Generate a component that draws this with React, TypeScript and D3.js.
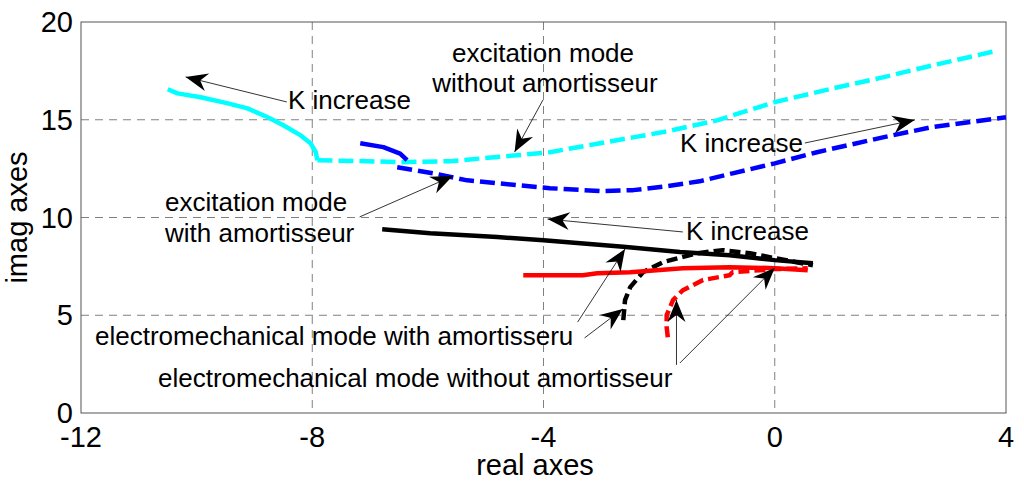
import React from "react";
import * as d3 from "d3";

const xTicks = [-12, -8, -4, 0, 4];
const yTicks = [0, 5, 10, 15, 20];

// excitation mode without amortisseur (cyan): solid part then dashed part
const cyanSolid: [number, number][] = [
  [-10.5, 16.56], [-10.33, 16.35], [-9.93, 16.15], [-9.46, 15.84], [-9.12, 15.58],
  [-8.77, 15.13], [-8.5, 14.72], [-8.2, 14.2], [-8.03, 13.8], [-7.94, 13.34], [-7.91, 12.93],
];
const cyanDashed: [number, number][] = [
  [-7.91, 12.93], [-7.05, 12.88], [-6.48, 12.83], [-5.61, 12.88], [-5.04, 13.03],
  [-4.46, 13.18], [-3.89, 13.34], [-3.02, 13.8], [-2.45, 14.1], [-1.87, 14.4],
  [-1.0, 14.97], [0, 15.9], [1.0, 16.6], [1.87, 17.17], [2.73, 17.78], [3.8, 18.5],
];
// excitation mode with amortisseur (blue)
const blueSolid: [number, number][] = [
  [-7.17, 13.8], [-6.77, 13.6], [-6.48, 13.27], [-6.36, 12.93],
];
const blueDashed: [number, number][] = [
  [-6.53, 12.57], [-5.9, 12.26], [-5.32, 11.9], [-4.75, 11.74], [-3.89, 11.5],
  [-3.02, 11.35], [-2.45, 11.4], [-1.87, 11.6], [-1.3, 11.85], [-0.73, 12.26],
  [0, 12.77], [0.73, 13.34], [1.87, 14.1], [2.73, 14.63], [4.0, 15.13],
];
// electromechanical mode with amortisseur (black)
const blackSolid: [number, number][] = [
  [-6.79, 9.4], [-5.96, 9.2], [-4.8, 9.0], [-4.0, 8.84], [-2.62, 8.5],
  [-1.64, 8.23], [-0.78, 8.07], [0, 7.82], [0.66, 7.66],
];
const blackDashed: [number, number][] = [
  [-2.62, 4.75], [-2.59, 5.77], [-2.5, 6.44], [-2.28, 7.2], [-1.93, 7.72],
  [-1.35, 8.17], [-0.9, 8.33], [-0.43, 8.17], [0, 7.92], [0.66, 7.56],
];
// electromechanical mode without amortisseur (red)
const redSolid: [number, number][] = [
  [-4.35, 7.05], [-3.32, 7.05], [-3.07, 7.15], [-2.5, 7.2], [-1.59, 7.4],
  [-0.78, 7.46], [0, 7.41], [0.57, 7.3],
];
const redDashed: [number, number][] = [
  [-1.85, 3.88], [-1.87, 4.4], [-1.87, 5.0], [-1.76, 5.77], [-1.59, 6.28],
  [-1.24, 6.8], [-0.78, 7.05], [-0.73, 7.2], [0, 7.36], [0.57, 7.4],
];

// annotation arrows: [startX, startY, tipX, tipY] in data units
const arrows: [number, number, number, number][] = [
  [-8.44, 15.91, -10.19, 17.19],
  [-4.01, 16.01, -4.5, 13.35],
  [0.52, 13.81, 2.42, 14.99],
  [-7.18, 10.03, -5.57, 12.12],
  [-1.59, 9.26, -3.93, 9.92],
  [-3.41, 4.65, -2.59, 8.39],
  [-3.29, 3.84, -2.63, 5.32],
  [-1.7, 2.46, -1.7, 5.78],
  [-1.64, 2.56, 0, 7.42],
];

// annotation texts: [text, x px, baseline px, anchor]
const notes: [string, number, number, string][] = [
  ["K increase", 288, 109, "start"],
  ["excitation mode", 543, 62, "middle"],
  ["without amortisseur", 545, 92, "middle"],
  ["K increase", 680, 152, "start"],
  ["excitation mode", 165, 211, "start"],
  ["with amortisseur", 165, 242, "start"],
  ["K increase", 686, 240, "start"],
  ["electromechanical mode with amortisseru", 95, 345, "start"],
  ["electromechanical mode without amortisseur", 158, 387, "start"],
];

const W = 1024;
const H = 482;
const L = 81, R = 1006, T = 22, B = 413;
const FONT = "Arial, 'Liberation Sans', Helvetica, sans-serif";

export default function App() {
  const x = d3.scaleLinear().domain([-12, 4]).range([L, R]);
  const y = d3.scaleLinear().domain([0, 20]).range([B, T]);
  const line = d3.line<[number, number]>().x((d) => x(d[0])).y((d) => y(d[1]));

  const series: { d: [number, number][]; c: string; dash?: string }[] = [
    { d: cyanSolid, c: "#00FFFF" },
    { d: cyanDashed, c: "#00FFFF", dash: "15,6" },
    { d: blueSolid, c: "#0000FF" },
    { d: blueDashed, c: "#0000FF", dash: "15,6" },
    { d: blackSolid, c: "#000000" },
    { d: blackDashed, c: "#000000", dash: "11,5" },
    { d: redSolid, c: "#FF0000" },
    { d: redDashed, c: "#FF0000", dash: "11,5" },
  ];

  const arrowHead = (sx: number, sy: number, tx: number, ty: number) => {
    const ang = Math.atan2(ty - sy, tx - sx);
    const len = 22, hw = 9, notch = 15;
    const ca = Math.cos(ang), sa = Math.sin(ang);
    const p = (back: number, side: number) =>
      [tx - back * ca - side * sa, ty - back * sa + side * ca].join(",");
    return `M${p(0, 0)}L${p(len, hw)}L${p(notch, 0)}L${p(len, -hw)}Z`;
  };

  return (
    <div style={{ position: "absolute", left: 0, top: 0 }}>
      <svg width={W} height={H} style={{ display: "block", background: "#fff" }}>
        <rect x={0} y={0} width={W} height={H} fill="#fff" />
        {/* grid */}
        {xTicks.slice(1, -1).map((t) => (
          <line key={"gx" + t} x1={x(t)} x2={x(t)} y1={T} y2={B} stroke="#808080" strokeWidth={1} strokeDasharray="8,6" />
        ))}
        {yTicks.slice(1, -1).map((t) => (
          <line key={"gy" + t} x1={L} x2={R} y1={y(t)} y2={y(t)} stroke="#808080" strokeWidth={1} strokeDasharray="8,6" />
        ))}
        <rect x={L} y={T} width={R - L} height={B - T} fill="none" stroke="#555" strokeWidth={1} />
        {/* series */}
        {series.map((s, i) => (
          <path key={"s" + i} d={line(s.d) || ""} fill="none" stroke={s.c} strokeWidth={4.5}
            strokeDasharray={s.dash} strokeLinejoin="round" />
        ))}
        {/* tick labels */}
        {xTicks.map((t) => (
          <text key={"xt" + t} x={x(t)} y={447} textAnchor="middle" fontFamily={FONT} fontSize={29} fill="#000">
            {t}
          </text>
        ))}
        {yTicks.map((t) => (
          <text key={"yt" + t} x={73} y={y(t) + 10} textAnchor="end" fontFamily={FONT} fontSize={29} fill="#000">
            {t}
          </text>
        ))}
        <text x={535} y={475} textAnchor="middle" fontFamily={FONT} fontSize={29} fill="#000">real axes</text>
        <text transform={`translate(27,${(T + B) / 2}) rotate(-90)`} textAnchor="middle" fontFamily={FONT} fontSize={29} fill="#000">
          imag axes
        </text>
        {/* annotations */}
        {arrows.map((a, i) => {
          const sx = x(a[0]), sy = y(a[1]), tx = x(a[2]), ty = y(a[3]);
          return (
            <g key={"a" + i}>
              <line x1={sx} y1={sy} x2={tx} y2={ty} stroke="#000" strokeWidth={0.8} />
              <path d={arrowHead(sx, sy, tx, ty)} fill="#000" />
            </g>
          );
        })}
        {notes.map((n, i) => (
          <text key={"n" + i} x={n[1]} y={n[2]} textAnchor={n[3] as any} fontFamily={FONT} fontSize={26} fill="#000">
            {n[0]}
          </text>
        ))}
      </svg>
    </div>
  );
}
